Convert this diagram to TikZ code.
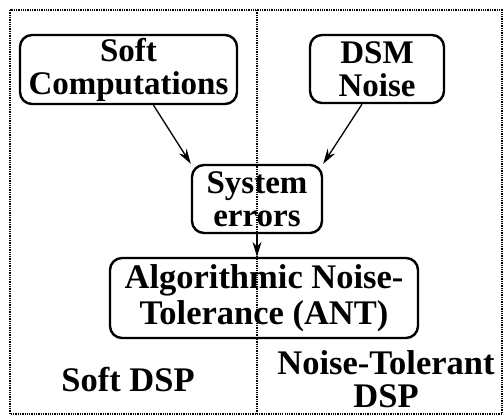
\documentclass[tikz,border=0pt]{standalone}
\usepackage{fontspec}
\setmainfont{Liberation Serif}
\usetikzlibrary{arrows.meta, positioning}

\begin{document}
\begin{tikzpicture}[
    x=1pt, y=-1pt,
    box/.style={rectangle, draw, line width=2.4pt, rounded corners=12pt,
                align=center, inner sep=2pt,
                font=\bfseries\fontsize{33}{33}\selectfont},
    areatext/.style={align=center, inner sep=0pt,
                font=\bfseries\fontsize{34.5}{33}\selectfont},
    frame/.style={densely dotted, line width=1.3pt},
    arrow/.style={-{Stealth[length=15pt, width=9pt]}, line width=1.3pt}
]
\useasboundingbox (0,0) rectangle (504,416);

% === FRAME AND DIVIDER ===
\draw[frame] (10,10) rectangle (502,414);
\draw[frame] (257,10) -- (257,414);

% === SOURCES ===
\node[box, minimum width=217pt, minimum height=69pt] (soft) at (128.5,69.5)
    {Soft\\Computations};
\node[box, minimum width=134pt, minimum height=68pt] (dsm) at (377,69)
    {DSM\\Noise};

% === ERRORS ===
\node[box, minimum width=130pt, minimum height=68pt] (errors) at (257,199)
    {System\\errors};
\node[box, minimum width=308pt, minimum height=80pt,
      font=\bfseries\fontsize{34.5}{36}\selectfont] (ant) at (264,298)
    {Algorithmic Noise-\\Tolerance (ANT)};

% === AREAS ===
\node[areatext] (softdsp) at (128,380) {Soft DSP};
\node[areatext] (ntdsp) at (386,379) {Noise-Tolerant\\DSP};

% === ARROWS ===
\draw[arrow] ([xshift=25pt]soft.south) -- (errors.north west);
\draw[arrow] ([xshift=-15pt]dsm.south) -- (errors.north east);
\draw[arrow] (errors.south) -- (errors.south |- ant.north);

\end{tikzpicture}
\end{document}
